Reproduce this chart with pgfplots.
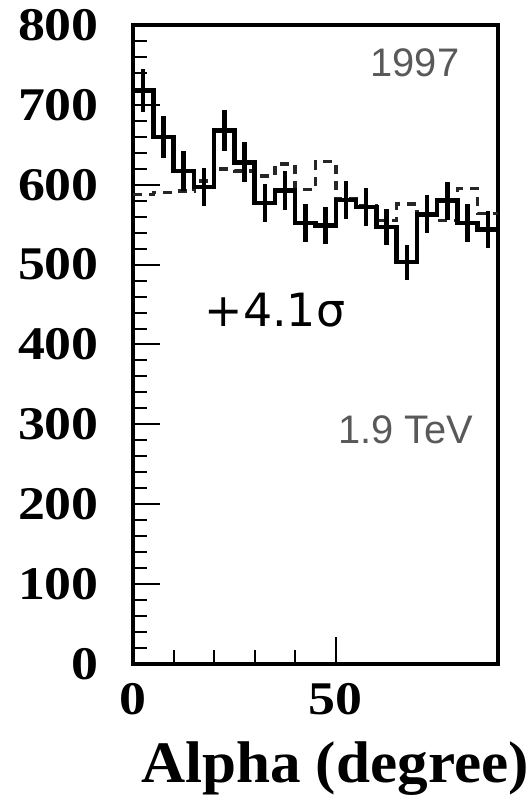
\documentclass[border=0pt]{standalone}
\usepackage{pgfplots}
\pgfplotsset{compat=1.18}
\usepackage{pgfplotstable}
\usepackage{fontspec}
\setmainfont{Liberation Serif}
\newfontfamily\tickf[FakeStretch=1.15]{Liberation Serif}
\newfontfamily\labf[FakeStretch=1.04]{Liberation Serif}
\newfontfamily\sansf{Liberation Sans}
\newfontfamily\dejavu{DejaVu Sans}

\pgfplotstableread{
x y
0 718
5 660
10 617
15 597
20 668
25 628
30 577
35 593
40 552
45 549
50 581
55 572
60 547
65 503
70 563
75 580
80 552
85 544
90 544
}\solid

\pgfplotstableread{
x y
0 588
5 590
10 592
15 605
20 620
25 617
30 611
35 626
40 594
45 629
50 582
55 574
60 555
65 576
70 564
75 555
80 595
85 564
90 564
}\dashedh

\pgfplotstableread{
x y e
2.5 718 27
7.5 660 26
12.5 617 25
17.5 597 24
22.5 668 26
27.5 628 25
32.5 577 24
37.5 593 24
42.5 552 24
47.5 549 23
52.5 581 24
57.5 572 24
62.5 547 23
67.5 503 22
72.5 563 24
77.5 580 24
82.5 552 24
87.5 544 23
}\errs

\begin{document}
\begin{tikzpicture}
\path[use as bounding box] (0,0) rectangle (532bp,799bp);
\begin{axis}[
  at={(133bp,135bp)},
  scale only axis,
  width=365bp, height=639bp,
  xmin=0, xmax=90, ymin=0, ymax=800,
  xtick={0,50}, ytick={0,100,...,800},
  minor x tick num=4, minor y tick num=4,
  xtick pos=bottom, ytick pos=left,
  tick align=inside,
  major tick length=27bp, minor tick length=14bp,
  every tick/.style={black, line width=2bp},
  axis line style={line width=3.5bp},
  /pgf/number format/assume math mode=true,
  ticklabel style={font=\tickf\fontsize{47}{47}\selectfont\bfseries, inner sep=0pt},
  yticklabel style={xshift=-34bp},
  xticklabel style={yshift=-19bp},
  xlabel={Alpha (degree)},
  xlabel style={font=\labf\fontsize{59}{59}\selectfont\bfseries, at={(axis description cs:0.553,0)}, anchor=base, yshift=-118bp, inner sep=0pt},
  clip=false,
]
\addplot[const plot mark left, black!85, line width=3.5bp, dash pattern=on 9bp off 7bp] table[x=x,y=y] {\dashedh};
\addplot[const plot mark left, black, line width=4.5bp] table[x=x,y=y] {\solid};
\addplot[draw=none, mark=none, error bars/.cd, y dir=both, y explicit, error mark=none,
  error bar style={line width=4.5bp, black}] table[x=x,y=y,y error=e] {\errs};
\node[font=\sansf\fontsize{40}{40}\selectfont, text=black!65] at (axis cs:69.5,753) {1997};
\node[font=\sansf\fontsize{40}{40}\selectfont, text=black!65] at (axis cs:67.3,293) {1.9 TeV};
\node[font=\dejavu\fontsize{46}{46}\selectfont] at (axis cs:35,443) {+4.1σ};
\end{axis}
\end{tikzpicture}
\end{document}
